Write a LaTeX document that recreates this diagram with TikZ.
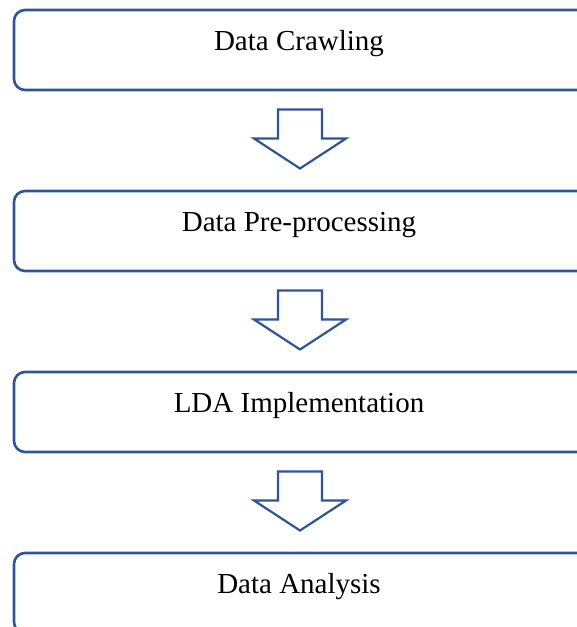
\documentclass[tikz,border=0pt]{standalone}
\usepackage{fontspec}
\setmainfont{Liberation Serif}
\usepackage{tikz}
\usetikzlibrary{calc, positioning}
\definecolor{stepblue}{RGB}{47,85,151}
\tikzset{>=latex}

\begin{document}
\begin{tikzpicture}
[x=1pt, y=1pt,
stage/.style={draw=stepblue, line width=2.6pt, rounded corners=11pt, fill=white,
minimum width=580pt, inner sep=0pt, outer sep=0pt,
text height=40pt, text depth=40pt, font=\fontsize{29}{34}\selectfont,
execute at end node=\hspace*{10pt}},
blockarrow/.pic={\draw[draw=stepblue, line width=2.2pt, fill=white, line join=miter]
(-22,0) -- (22,0) -- (22,-29) -- (46,-29) -- (0,-59) -- (-46,-29) -- (-22,-29) -- cycle;}]
\useasboundingbox (0,0) rectangle (577,-627);
\clip (0,0) rectangle (577,-627);
\node[stage, anchor=north] (crawl) at (304,-10) {Data Crawling};
\node[stage, below=101pt of crawl] (prep) {Data Pre-processing};
\node[stage, below=101pt of prep] (lda) {LDA Implementation};
\node[stage, below=101pt of lda] (analysis) {Data Analysis};
\path
($(crawl.south)+(-4,-19.5)$) pic {blockarrow}
($(prep.south)+(-4,-19.5)$) pic {blockarrow}
($(lda.south)+(-4,-19.5)$) pic {blockarrow};
\end{tikzpicture}
\end{document}
